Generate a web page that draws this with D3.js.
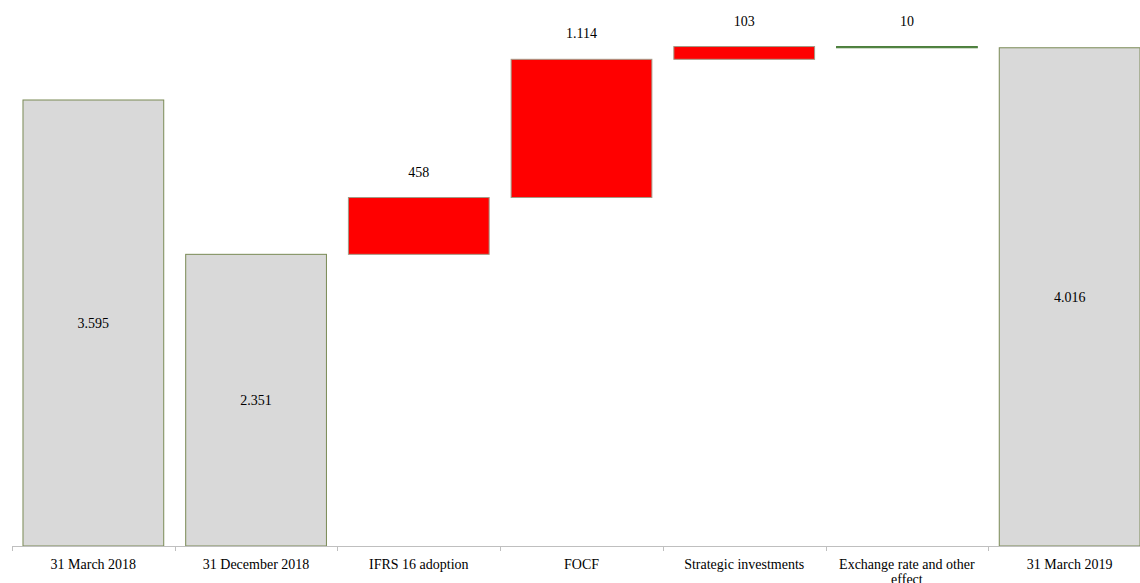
<!DOCTYPE html>
<html>
<head>
<meta charset="utf-8">
<script src="https://cdn.jsdelivr.net/npm/d3@7.9.0/dist/d3.min.js"></script>
<style>
  body { margin: 0; background: #fff; }
  svg text { font-family: "Liberation Serif", "Times New Roman", serif; font-size: 14px; fill: #000; }
</style>
</head>
<body>
<svg id="chart" width="1140" height="583"></svg>
<script>
// data
const categories = ['31 March 2018', '31 December 2018', 'IFRS 16 adoption', 'FOCF',
  'Strategic investments', 'Exchange rate and other effect', '31 March 2019'];
const values = [3595, 2351, 458, 1114, 103, -10, 4016];
const kinds = ['total', 'total', 'step', 'step', 'step', 'step', 'total'];

// layout
const W = 1140, H = 583;
const baseY = 546;
const svg = d3.select('#chart');

const x = d3.scaleBand().domain(categories).range([12, 1151]).paddingInner(0.135).paddingOuter(0.0675);
const y = d3.scaleLinear().domain([0, 3595]).range([baseY, 100]);

const fmt = v => d3.format(',')(Math.abs(v)).replace(/,/g, '.');

// running waterfall positions
let run = 0;
const rows = categories.map((c, i) => {
  let lo, hi;
  if (kinds[i] === 'total') { lo = 0; hi = values[i]; run = values[i]; }
  else { const prev = run; run += values[i]; lo = Math.min(prev, run); hi = Math.max(prev, run); }
  return { c, v: values[i], kind: kinds[i], lo, hi };
});

const fillOf = d => d.kind === 'total' ? '#d9d9d9' : (d.v > 0 ? '#ff0000' : '#4a7d3a');
const strokeOf = d => d.kind === 'total' ? '#7a8a55' : (d.v > 0 ? '#a39a86' : '#4a7d3a');

svg.selectAll('rect.bar').data(rows).join('rect')
  .attr('class', 'bar')
  .attr('x', d => x(d.c))
  .attr('width', x.bandwidth())
  .attr('y', d => y(d.hi))
  .attr('height', d => Math.max(1, y(d.lo) - y(d.hi)))
  .attr('fill', fillOf)
  .attr('stroke', strokeOf)
  .attr('stroke-width', 1);

// value labels
svg.selectAll('text.val').data(rows).join('text')
  .attr('class', 'val')
  .attr('x', d => x(d.c) + x.bandwidth() / 2)
  .attr('y', d => d.kind === 'total' ? (y(d.lo) + y(d.hi)) / 2 + 5 : y(d.hi) - 21)
  .attr('text-anchor', 'middle')
  .text(d => fmt(d.v));

// axis line + ticks at band edges
svg.append('line').attr('x1', 12).attr('x2', 1140).attr('y1', baseY + 0.5).attr('y2', baseY + 0.5)
  .attr('stroke', '#bfbfbf');
const step = x.step();
d3.range(categories.length + 1).forEach(i => {
  const tx = Math.round(12 + i * step) + 0.5;
  svg.append('line').attr('x1', tx).attr('x2', tx).attr('y1', baseY).attr('y2', baseY + 5).attr('stroke', '#bfbfbf');
});

// category labels, wrapped to band width
categories.forEach(c => {
  const t = svg.append('text').attr('x', x(c) + x.bandwidth() / 2).attr('y', 569).attr('text-anchor', 'middle');
  const words = c.split(' ');
  let line = [], lineNo = 0;
  let ts = t.append('tspan').attr('x', x(c) + x.bandwidth() / 2).attr('dy', 0);
  words.forEach(w => {
    line.push(w);
    ts.text(line.join(' '));
    if (ts.node().getComputedTextLength() > step - 14 && line.length > 1) {
      line.pop();
      ts.text(line.join(' '));
      line = [w];
      lineNo++;
      ts = t.append('tspan').attr('x', x(c) + x.bandwidth() / 2).attr('dy', 15).text(w);
    }
  });
});
</script>
</body>
</html>
